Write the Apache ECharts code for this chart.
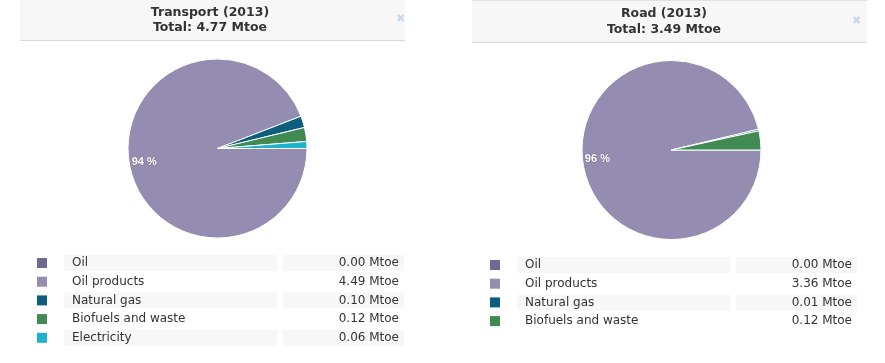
<!DOCTYPE html>
<html>
<head>
<meta charset="utf-8">
<script src="https://cdn.jsdelivr.net/npm/echarts@6/dist/echarts.min.js"></script>
<style>
html,body{margin:0;padding:0;background:#fff;}
#chart{width:885px;height:363px;}
</style>
</head>
<body>
<div id="chart"></div>
<script>
// ---- data ----
const categories = ['Oil', 'Oil products', 'Natural gas', 'Biofuels and waste', 'Electricity'];
const colors = ['#706a92', '#948cb1', '#0d5d7e', '#428a53', '#1fb2cc'];
const transportTitle = 'Transport (2013)';
const transportValues = [0.00, 4.49, 0.10, 0.12, 0.06];
const roadTitle = 'Road (2013)';
const roadCategories = ['Oil', 'Oil products', 'Natural gas', 'Biofuels and waste'];
const roadValues = [0.00, 3.36, 0.01, 0.12];
const unit = 'Mtoe';

const chart = echarts.init(document.getElementById('chart'), null, {renderer: 'canvas'});

function toData(cats, vals) {
  return cats.map((c, i) => ({name: c, value: vals[i], itemStyle: {color: colors[categories.indexOf(c)]}}));
}
function sum(a) { return a.reduce((s, v) => s + v, 0); }

const FONT = '"DejaVu Sans", Verdana, sans-serif';
const ROWBG = '#f7f7f7';

function richFor() {
  const base = {fontFamily: FONT, fontSize: 12, color: '#333', lineHeight: 16, height: 16};
  const r = {};
  ['0', '1'].forEach(k => {
    const bg = k === '0' ? ROWBG : 'transparent';
    r['sp' + k] = Object.assign({}, base, {width: 12});
    r['nl' + k] = Object.assign({}, base, {width: 8, backgroundColor: bg});
    r['nm' + k] = Object.assign({}, base, {width: 205, backgroundColor: bg});
    r['gp' + k] = Object.assign({}, base, {width: 6});
    r['v' + k] = Object.assign({}, base, {width: 116, align: 'right', backgroundColor: bg});
    r['vr' + k] = Object.assign({}, base, {width: 5, align: 'right', backgroundColor: bg});
  });
  return r;
}

function legendFor(cats, vals, left, top) {
  return {
    orient: 'vertical',
    left: left,
    top: top,
    padding: 0,
    itemWidth: 10,
    itemHeight: 10,
    itemGap: 2.7,
    icon: 'rect',
    selectedMode: false,
    itemStyle: {borderWidth: 0},
    data: cats.map(c => ({name: c, itemStyle: {color: colors[categories.indexOf(c)], borderWidth: 0}})),
    formatter: function (name) {
      const i = cats.indexOf(name);
      const k = (i % 2 === 0) ? '0' : '1';
      return '{sp' + k + '| }{nl' + k + '| }{nm' + k + '|' + name + '}{gp' + k + '| }{v' + k + '|' + vals[i].toFixed(2) + ' ' + unit + '}{vr' + k + '| }';
    },
    textStyle: {rich: richFor(), padding: 0}
  };
}

function pieSeries(cats, vals, center, r) {
  const data = toData(cats, vals);
  return [
    {
      type: 'pie',
      center: center,
      radius: [0, r],
      startAngle: 0,
      clockwise: true,
      avoidLabelOverlap: false,
      silent: true,
      data: data,
      itemStyle: {borderColor: '#fff', borderWidth: 1},
      label: {show: false},
      labelLine: {show: false}
    },
    {
      type: 'pie',
      center: center,
      radius: [r * 0.6, r],
      startAngle: 0,
      clockwise: true,
      avoidLabelOverlap: false,
      silent: true,
      data: data.map(d => ({name: d.name, value: d.value, itemStyle: {color: 'rgba(0,0,0,0)'}})),
      itemStyle: {borderWidth: 0},
      label: {
        show: true,
        position: 'inside',
        formatter: p => (p.percent >= 10 ? Math.round(p.percent) + ' %' : ''),
        color: '#ffffff',
        fontFamily: '"Liberation Sans", Arial, sans-serif',
        fontWeight: 'bold',
        fontSize: 11,
        textBorderColor: 'rgba(90,80,110,0.35)',
        textBorderWidth: 1
      },
      labelLine: {show: false}
    }
  ];
}

const option = {
  animation: false,
  backgroundColor: '#ffffff',
  graphic: [
    {type: 'rect', shape: {x: 20, y: 0, width: 385, height: 40}, style: {fill: '#f7f7f7'}, z: -10},
    {type: 'line', shape: {x1: 20, y1: 40.5, x2: 405, y2: 40.5}, style: {stroke: '#d9d9d9', lineWidth: 1}, z: -9},
    {type: 'text', left: 396, top: 14, style: {text: '\u2716', fill: '#c9d9eb', font: '11px "DejaVu Sans"'}},
    {type: 'rect', shape: {x: 472, y: 1, width: 395, height: 41}, style: {fill: '#f7f7f7'}, z: -10},
    {type: 'line', shape: {x1: 472, y1: 0.5, x2: 867, y2: 0.5}, style: {stroke: '#e2e2e2', lineWidth: 1}, z: -9},
    {type: 'line', shape: {x1: 472, y1: 42.5, x2: 867, y2: 42.5}, style: {stroke: '#d9d9d9', lineWidth: 1}, z: -9},
    {type: 'text', left: 852, top: 16, style: {text: '\u2716', fill: '#c9d9eb', font: '11px "DejaVu Sans"'}}
  ],
  title: [
    {
      text: transportTitle + '\nTotal: ' + sum(transportValues).toFixed(2) + ' ' + unit,
      left: 210, top: 5, textAlign: 'center', padding: 0,
      textStyle: {fontFamily: FONT, fontSize: 12.5, fontWeight: 'bold', color: '#333', lineHeight: 15}
    },
    {
      text: roadTitle + '\nTotal: ' + sum(roadValues).toFixed(2) + ' ' + unit,
      left: 664, top: 6, textAlign: 'center', padding: 0,
      textStyle: {fontFamily: FONT, fontSize: 12.5, fontWeight: 'bold', color: '#333', lineHeight: 16}
    }
  ],
  legend: [
    legendFor(categories, transportValues, 37, 255),
    legendFor(roadCategories, roadValues, 490, 257)
  ],
  series: [].concat(
    pieSeries(categories, transportValues, [217.5, 148.5], 89.5),
    pieSeries(roadCategories, roadValues, [671.5, 150], 89.5)
  )
};
chart.setOption(option);
</script>
</body>
</html>
